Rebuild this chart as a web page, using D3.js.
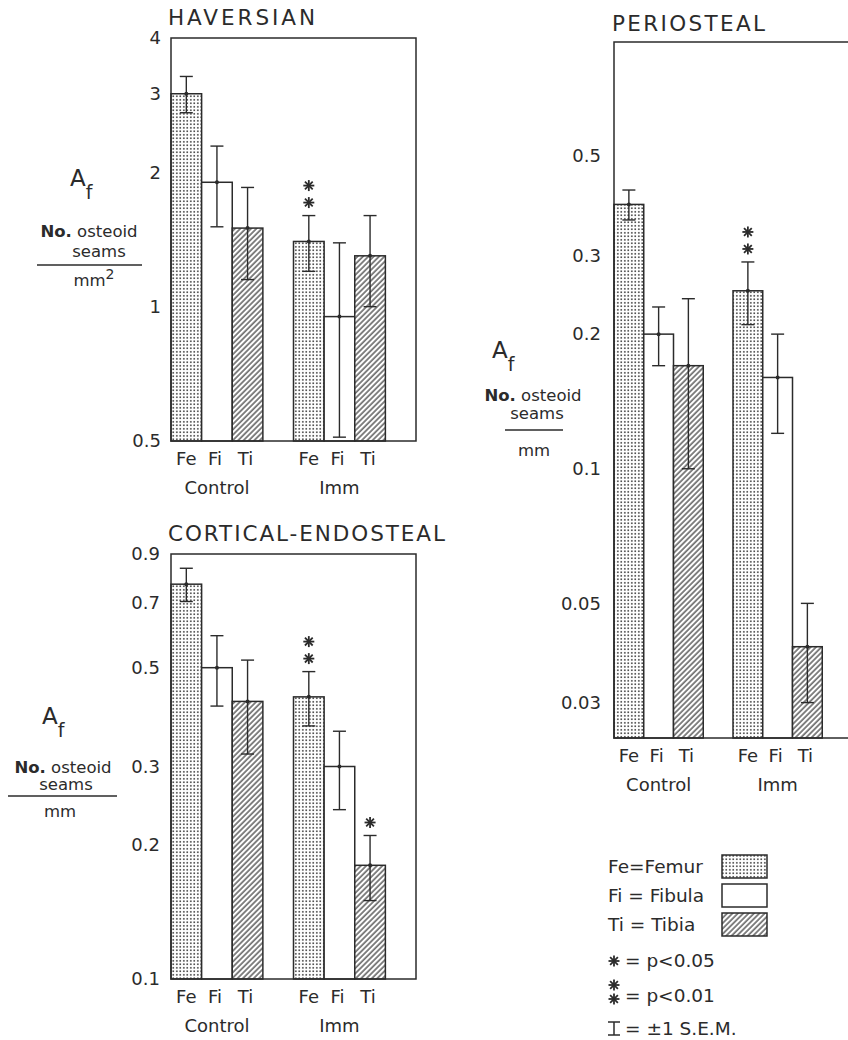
<!DOCTYPE html>
<html>
<head>
<meta charset="utf-8">
<script src="https://cdn.jsdelivr.net/npm/d3@7"></script>
<style>
  body { margin: 0; background: #fff; }
  svg { display: block; }
  text { font-family: "DejaVu Sans", "Open Sans", sans-serif; fill: #2b2b2b; }
</style>
</head>
<body>
<svg id="chart" width="848" height="1040"></svg>
<script>
// ---- data ----
const groups = ["Control", "Imm"];
const bones = ["Fe", "Fi", "Ti"];

// order: Control Fe, Fi, Ti, Imm Fe, Fi, Ti
const haversianMean  = [3.0, 1.9, 1.5, 1.4, 0.95, 1.3];
const haversianSem   = [0.28, 0.39, 0.35, 0.2, 0.44, 0.3];
const haversianStars = [0, 0, 0, 2, 0, 0];
const haversianTicks = [0.5, 1, 2, 3, 4];

const corticalMean  = [0.77, 0.5, 0.42, 0.43, 0.30, 0.18];
const corticalSem   = [0.066, 0.09, 0.1, 0.06, 0.06, 0.03];
const corticalStars = [0, 0, 0, 2, 0, 1];
const corticalTicks = [0.1, 0.2, 0.3, 0.5, 0.7, 0.9];

const periostealMean  = [0.39, 0.20, 0.17, 0.25, 0.16, 0.04];
const periostealSem   = [0.03, 0.03, 0.07, 0.04, 0.04, 0.01];
const periostealStars = [0, 0, 0, 2, 0, 0];
const periostealTicks = [0.03, 0.05, 0.1, 0.2, 0.3, 0.5];

const legendBones = [["Fe", "Femur"], ["Fi", "Fibula"], ["Ti", "Tibia"]];
const legendSig = ["p<0.05", "p<0.01"];
const legendSem = "±1 S.E.M.";

// ---- drawing ----
const INK = "#2b2b2b";
const svg = d3.select("#chart");
svg.append("rect").attr("width", 848).attr("height", 1040).attr("fill", "#fff");

const defs = svg.append("defs");
const dots = defs.append("pattern").attr("id", "dots")
  .attr("patternUnits", "userSpaceOnUse").attr("width", 3.5).attr("height", 3.5);
dots.append("rect").attr("width", 3.5).attr("height", 3.5).attr("fill", "#fff");
dots.append("rect").attr("x", 1).attr("y", 1).attr("width", 1.6).attr("height", 1.6).attr("fill", "#3e3e3e");

const hatch = defs.append("pattern").attr("id", "hatch")
  .attr("patternUnits", "userSpaceOnUse").attr("width", 3.8).attr("height", 3.8)
  .attr("patternTransform", "rotate(45)");
hatch.append("rect").attr("width", 3.8).attr("height", 3.8).attr("fill", "#fff");
hatch.append("line").attr("x1", 1).attr("y1", 0).attr("x2", 1).attr("y2", 3.8)
  .attr("stroke", "#333").attr("stroke-width", 1.2);

const fills = { Fe: "url(#dots)", Fi: "#fff", Ti: "url(#hatch)" };

function star(g, cx, cy) {
  const r = 5.5;
  [0, 45, 90, 135].forEach(a => {
    const t = a * Math.PI / 180;
    g.append("line")
      .attr("x1", cx - r * Math.cos(t)).attr("y1", cy - r * Math.sin(t))
      .attr("x2", cx + r * Math.cos(t)).attr("y2", cy + r * Math.sin(t))
      .attr("stroke", INK).attr("stroke-width", 1.8);
  });
}

function drawPanel(cfg) {
  const g = svg.append("g");
  const x = d3.scaleBand().domain(d3.range(8)).range([cfg.left, cfg.right]).padding(0);
  const y = d3.scaleLog().domain(cfg.domain).range([cfg.bottom, cfg.top]);
  const bw = x.bandwidth();

  const data = cfg.mean.map((m, i) => ({
    m, s: cfg.sem[i], stars: cfg.stars[i],
    bone: bones[i % 3], slot: Math.floor(i / 3) * 4 + (i % 3)
  }));

  g.selectAll("rect.bar").data(data).join("rect").attr("class", "bar")
    .attr("x", d => x(d.slot)).attr("width", bw)
    .attr("y", d => y(d.m)).attr("height", d => cfg.bottom - y(d.m))
    .attr("fill", d => fills[d.bone])
    .attr("stroke", INK).attr("stroke-width", 1.5);

  // frame
  g.append("rect")
    .attr("x", cfg.left).attr("y", cfg.top)
    .attr("width", cfg.right - cfg.left).attr("height", cfg.bottom - cfg.top)
    .attr("fill", "none").attr("stroke", INK).attr("stroke-width", 1.5);

  // error bars (± 1 SEM)
  const eb = g.selectAll("g.err").data(data).join("g").attr("class", "err")
    .attr("transform", d => `translate(${x(d.slot) + bw / 2},0)`);
  eb.append("line")
    .attr("y1", d => y(d.m - d.s)).attr("y2", d => y(d.m + d.s))
    .attr("stroke", INK).attr("stroke-width", 1.4);
  eb.append("line").attr("x1", -6.5).attr("x2", 6.5)
    .attr("y1", d => y(d.m + d.s)).attr("y2", d => y(d.m + d.s))
    .attr("stroke", INK).attr("stroke-width", 1.4);
  eb.append("line").attr("x1", -6.5).attr("x2", 6.5)
    .attr("y1", d => y(d.m - d.s)).attr("y2", d => y(d.m - d.s))
    .attr("stroke", INK).attr("stroke-width", 1.4);
  eb.append("circle").attr("cy", d => y(d.m)).attr("r", 2).attr("fill", INK);

  // significance marks
  data.forEach(d => {
    for (let k = 0; k < d.stars; k++) {
      star(g, x(d.slot) + bw / 2, y(d.m + d.s) - 13 - k * 17);
    }
  });

  // y axis labels
  const ax = d3.axisLeft(y).tickValues(cfg.ticks).tickFormat(d => String(d))
    .tickSize(0).tickPadding(cfg.pad);
  const axg = g.append("g").attr("transform", `translate(${cfg.left},0)`).call(ax);
  axg.select(".domain").remove();
  axg.attr("font-size", null).attr("font-family", null);
  axg.selectAll("text").attr("fill", INK)
    .style("font-size", "18px")
    .style("font-family", "'DejaVu Sans', sans-serif");

  // bone and group labels
  data.forEach(d => {
    g.append("text").attr("x", x(d.slot) + bw / 2 - (d.bone === "Fe" ? 0 : 2))
      .attr("y", cfg.bottom + 24).attr("text-anchor", "middle")
      .attr("font-size", 18).text(d.bone);
  });
  groups.forEach((name, gi) => {
    g.append("text").attr("x", x(gi * 4 + 1) + bw / 2)
      .attr("y", cfg.bottom + 53).attr("text-anchor", "middle")
      .attr("font-size", 18).text(name);
  });

  // title
  g.append("text").attr("x", cfg.titleX).attr("y", cfg.titleY)
    .attr("font-size", 21.5).attr("textLength", cfg.titleW)
    .attr("lengthAdjust", "spacing").text(cfg.title);

  // y axis title: A_f = No. osteoid seams per area or length
  const L = cfg.lab;
  const a = g.append("text").attr("x", L.ax).attr("y", L.ay).attr("font-size", 23);
  a.append("tspan").text("A");
  a.append("tspan").attr("font-size", 19).attr("dy", 13).text("f");
  const n = g.append("text").attr("x", L.cx).attr("y", L.y1)
    .attr("text-anchor", "middle").attr("font-size", 16.5);
  n.append("tspan").attr("font-weight", "bold").text("No.");
  n.append("tspan").text(" osteoid");
  g.append("text").attr("x", L.sx).attr("y", L.y2)
    .attr("text-anchor", "middle").attr("font-size", 16.5).text("seams");
  g.append("line").attr("x1", L.lx1).attr("x2", L.lx2).attr("y1", L.ly).attr("y2", L.ly)
    .attr("stroke", INK).attr("stroke-width", 1.5);
  const u = g.append("text").attr("x", L.ux).attr("y", L.y3)
    .attr("text-anchor", "middle").attr("font-size", 16.5);
  u.append("tspan").text("mm");
  if (cfg.squared) u.append("tspan").attr("dy", -7).attr("font-size", 14).text("2");
}

drawPanel({
  title: "HAVERSIAN", titleX: 168, titleY: 25, titleW: 147,
  left: 171, right: 416, top: 38, bottom: 441, domain: [0.5, 4], pad: 10,
  mean: haversianMean, sem: haversianSem, stars: haversianStars, ticks: haversianTicks,
  squared: true,
  lab: { ax: 70, ay: 186, cx: 89, sx: 99, ux: 94, y1: 237, y2: 257, y3: 286, lx1: 37, lx2: 142, ly: 265 }
});

drawPanel({
  title: "CORTICAL-ENDOSTEAL", titleX: 168, titleY: 541, titleW: 277,
  left: 171, right: 416, top: 554, bottom: 979, domain: [0.1, 0.9], pad: 11,
  mean: corticalMean, sem: corticalSem, stars: corticalStars, ticks: corticalTicks,
  squared: false,
  lab: { ax: 42, ay: 724, cx: 63, sx: 66, ux: 60, y1: 773, y2: 790, y3: 817, lx1: 8, lx2: 117, ly: 796 }
});

drawPanel({
  title: "PERIOSTEAL", titleX: 612, titleY: 31, titleW: 153,
  left: 614, right: 852, top: 42, bottom: 738, domain: [0.025, 0.9], pad: 13,
  mean: periostealMean, sem: periostealSem, stars: periostealStars, ticks: periostealTicks,
  squared: false,
  lab: { ax: 492, ay: 358, cx: 533, sx: 537, ux: 534, y1: 401, y2: 419, y3: 456, lx1: 505, lx2: 563, ly: 430 }
});

// ---- legend ----
const lg = svg.append("g");
const boxY = [855, 884, 913];
legendBones.forEach(([code, name], i) => {
  lg.append("text").attr("x", 608).attr("y", boxY[i] + 18).attr("font-size", 18.5)
    .text(code === "Fe" ? `${code}=${name}` : `${code} = ${name}`);
  lg.append("rect").attr("x", 722).attr("y", boxY[i]).attr("width", 45).attr("height", 23)
    .attr("fill", fills[code]).attr("stroke", INK).attr("stroke-width", 1.5);
});
star(lg, 614, 961);
lg.append("text").attr("x", 625).attr("y", 967).attr("font-size", 18.5).text("= " + legendSig[0]);
star(lg, 614, 985);
star(lg, 614, 999);
lg.append("text").attr("x", 625).attr("y", 1002).attr("font-size", 18.5).text("= " + legendSig[1]);
// error-bar glyph
lg.append("line").attr("x1", 614).attr("x2", 614).attr("y1", 1022).attr("y2", 1035).attr("stroke", INK).attr("stroke-width", 1.5);
lg.append("line").attr("x1", 608).attr("x2", 620).attr("y1", 1022).attr("y2", 1022).attr("stroke", INK).attr("stroke-width", 1.5);
lg.append("line").attr("x1", 608).attr("x2", 620).attr("y1", 1035).attr("y2", 1035).attr("stroke", INK).attr("stroke-width", 1.5);
lg.append("text").attr("x", 625).attr("y", 1035).attr("font-size", 18.5).text("= " + legendSem);
</script>
</body>
</html>
